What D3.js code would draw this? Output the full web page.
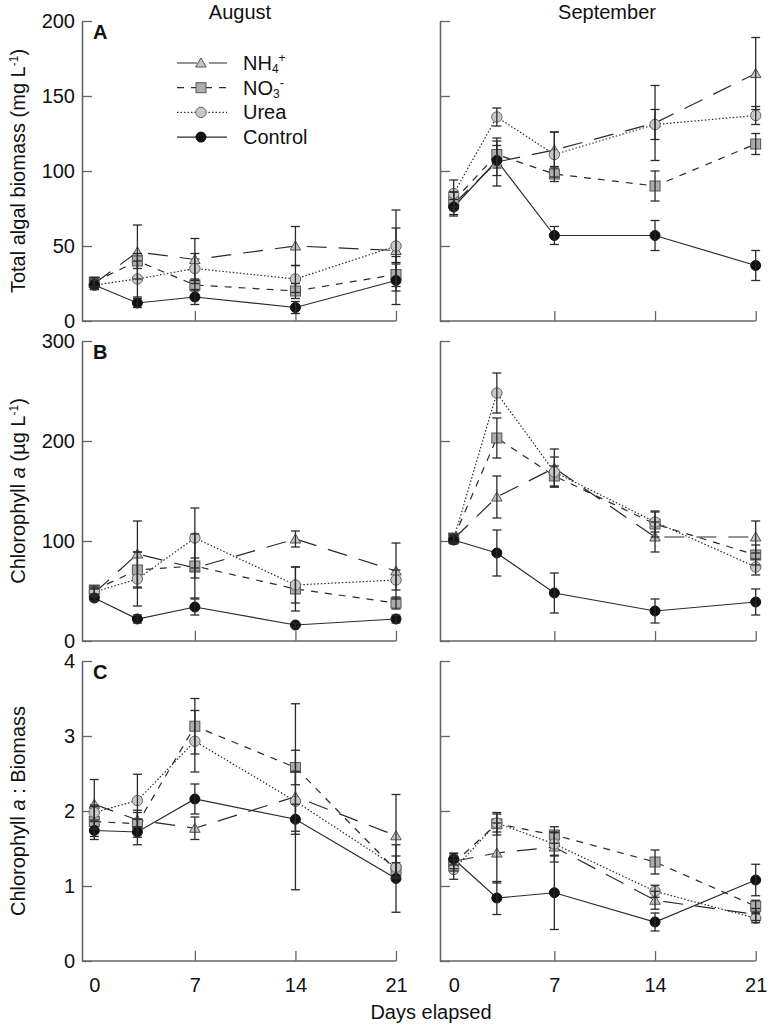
<!DOCTYPE html>
<html>
<head>
<meta charset="utf-8">
<script src="https://cdn.jsdelivr.net/npm/d3@7"></script>
<style>
  body { margin: 0; background: #fff; }
  svg { font-family: "Liberation Sans", Arial, sans-serif; }
</style>
</head>
<body>
<svg id="chart" width="771" height="1032"></svg>
<script>
/// data ///
const days = [0, 3, 7, 14, 21];
const seriesNames = ["NH4", "NO3", "Urea", "Control"];
const months = ["August", "September"];

// rows: NH4, NO3, Urea, Control
const biomassAugMean = [[25, 46, 41, 50, 47], [26, 40, 24, 20, 31], [24, 28, 35, 28, 50], [24, 12, 16, 9, 27]];
const biomassAugErr  = [[3, 18, 14, 13, 27], [3, 5, 4, 5, 8], [3, 12, 10, 9, 12], [3, 3, 5, 4, 16]];
const biomassSepMean = [[78, 106, 114, 132, 165], [80, 111, 98, 90, 118], [85, 136, 111, 131, 137], [76, 107, 57, 57, 37]];
const biomassSepErr  = [[8, 16, 12, 25, 24], [6, 9, 5, 10, 7], [9, 6, 15, 10, 6], [5, 10, 6, 10, 10]];

const chlAugMean = [[48, 87, 73, 102, 70], [51, 71, 75, 52, 38], [49, 62, 103, 56, 61], [43, 22, 34, 16, 22]];
const chlAugErr  = [[4, 33, 10, 8, 28], [4, 18, 32, 22, 6], [4, 27, 30, 18, 10], [3, 4, 8, 2, 4]];
const chlSepMean = [[102, 144, 173, 104, 104], [103, 203, 165, 117, 86], [102, 248, 169, 119, 74], [101, 88, 48, 30, 39]];
const chlSepErr  = [[4, 21, 19, 15, 16], [4, 20, 10, 13, 10], [4, 20, 15, 10, 8], [4, 23, 20, 12, 13]];

const ratioAugMean = [[2.09, 1.88, 1.77, 2.19, 1.67], [1.86, 1.83, 3.13, 2.58, 1.21], [1.98, 2.14, 2.93, 2.13, 1.25], [1.74, 1.72, 2.16, 1.89, 1.10]];
const ratioAugErr  = [[0.33, 0.1, 0.15, 1.24, 0.55], [0.2, 0.18, 0.37, 0.23, 0.1], [0.1, 0.35, 0.41, 0.4, 0.15], [0.12, 0.17, 0.2, 0.2, 0.45]];
const ratioSepMean = [[1.33, 1.44, 1.52, 0.81, 0.62], [1.30, 1.83, 1.68, 1.32, 0.73], [1.22, 1.84, 1.56, 0.93, 0.57], [1.36, 0.84, 0.91, 0.52, 1.08]];
const ratioSepErr  = [[0.1, 0.4, 0.2, 0.12, 0.08], [0.1, 0.15, 0.11, 0.16, 0.08], [0.13, 0.12, 0.15, 0.08, 0.06], [0.08, 0.22, 0.49, 0.12, 0.21]];

const xTicks = [0, 7, 14, 21];
const biomassTicks = [0, 50, 100, 150, 200];
const chlTicks = [0, 100, 200, 300];
const ratioTicks = [0, 1, 2, 3, 4];

const panels = [
  { letter: "A", ticks: biomassTicks, max: 200, data: [[biomassAugMean, biomassAugErr], [biomassSepMean, biomassSepErr]] },
  { letter: "B", ticks: chlTicks, max: 300, data: [[chlAugMean, chlAugErr], [chlSepMean, chlSepErr]] },
  { letter: "C", ticks: ratioTicks, max: 4, data: [[ratioAugMean, ratioAugErr], [ratioSepMean, ratioSepErr]] }
];

/// styles ///
const lineDash = { NH4: "20,12", NO3: "7,7", Urea: "1.5,2", Control: null };
const markFill = { NH4: "#c4c4c4", NO3: "#acacac", Urea: "#c8c8c8", Control: "#111" };
const ink = "#2a2a2a";
const axisColor = "#666";
const fontFam = "'Liberation Sans', Arial, sans-serif";

/// layout ///
const colAxisX = [82, 440];
const colRange = [[94.3, 396], [453.7, 755.7]];
const monthX = [240, 607];
const rowTop = [21, 341, 661];
const rowH = 300;

const svg = d3.select("#chart");

// y axis titles
const yTitles = [
  { y: 171, parts: [["Total algal biomass (mg L", null], ["-1", "super"], [")", null]] },
  { y: 491, parts: [["Chlorophyll ", null], ["a", "italic"], [" (µg L", null], ["-1", "super"], [")", null]] },
  { y: 811, parts: [["Chlorophyll ", null], ["a", "italic"], [" : Biomass", null]] }
];

panels.forEach((p, r) => {
  const top = rowTop[r];
  const y = d3.scaleLinear().domain([0, p.max]).range([top + rowH, top]);

  months.forEach((m, c) => {
    const x = d3.scaleLinear().domain([0, 21]).range(colRange[c]);
    const g = svg.append("g");

    // y axis
    g.append("g")
      .attr("transform", `translate(${colAxisX[c]},0)`)
      .call(d3.axisLeft(y).tickValues(p.ticks).tickSize(-10).tickSizeOuter(0).tickPadding(7)
        .tickFormat(c === 0 ? d3.format("d") : ""))
      .call(a => a.select(".domain").attr("stroke", axisColor).attr("stroke-width", 1.6))
      .call(a => a.selectAll(".tick line").attr("stroke", axisColor).attr("stroke-width", 1.3))
      .call(a => a.selectAll(".tick text").attr("font-size", 20).attr("fill", "#111")
        .attr("font-family", fontFam));

    // x axis
    const xa = g.append("g")
      .attr("transform", `translate(0,${top + rowH})`)
      .call(d3.axisBottom(x).tickValues(xTicks).tickSize(-10).tickPadding(17)
        .tickFormat(r === 2 ? d3.format("d") : ""))
      .call(a => a.select(".domain").remove())
      .call(a => a.selectAll(".tick line").attr("stroke", axisColor).attr("stroke-width", 1.3)
        .filter(d => d === 0).remove())
      .call(a => a.selectAll(".tick text").attr("font-size", 20).attr("fill", "#111")
        .attr("font-family", fontFam));
    xa.append("line")
      .attr("x1", colAxisX[c]).attr("x2", x(21))
      .attr("stroke", axisColor).attr("stroke-width", 1.6);

    const [means, errs] = p.data[c];

    // lines
    const line = d3.line().x((d, i) => x(days[i])).y(d => y(d));
    seriesNames.forEach((s, k) => {
      g.append("path")
        .attr("d", line(means[k]))
        .attr("fill", "none")
        .attr("stroke", ink)
        .attr("stroke-width", 1.2)
        .attr("stroke-dasharray", lineDash[s]);
    });

    // markers
    seriesNames.forEach((s, k) => drawMarkers(g, s, means[k], x, y));

    // error bars
    seriesNames.forEach((s, k) => {
      const eb = g.append("g").attr("stroke", ink).attr("stroke-width", 1.3);
      means[k].forEach((v, i) => {
        const cx = x(days[i]), lo = y(Math.max(0, v - errs[k][i])), hi = y(v + errs[k][i]);
        eb.append("line").attr("x1", cx).attr("x2", cx).attr("y1", lo).attr("y2", hi);
        eb.append("line").attr("x1", cx - 4.5).attr("x2", cx + 4.5).attr("y1", lo).attr("y2", lo);
        eb.append("line").attr("x1", cx - 4.5).attr("x2", cx + 4.5).attr("y1", hi).attr("y2", hi);
      });
    });

    // month titles
    if (r === 0) {
      svg.append("text")
        .attr("x", monthX[c]).attr("y", 19)
        .attr("text-anchor", "middle").attr("font-size", 20).attr("fill", "#111")
        .text(m);
    }
  });

  // panel letter
  svg.append("text")
    .attr("x", 93).attr("y", top + 18)
    .attr("font-size", 20).attr("font-weight", "bold").attr("fill", "#111")
    .text(p.letter);

  // y title
  const t = svg.append("text")
    .attr("transform", `translate(25,${yTitles[r].y}) rotate(-90)`)
    .attr("text-anchor", "middle").attr("font-size", 20).attr("fill", "#111");
  yTitles[r].parts.forEach(([txt, kind]) => {
    const ts = t.append("tspan").text(txt);
    if (kind === "super") ts.attr("font-size", 12).attr("baseline-shift", "super");
    if (kind === "italic") ts.attr("font-style", "italic");
  });
});

function drawMarkers(g, s, vals, x, y) {
  vals.forEach((v, i) => drawMarker(g, s, x(days[i]), y(v)));
}

function drawMarker(g, s, cx, cy) {
  if (s === "NH4") {
    g.append("path")
      .attr("d", d3.symbol(d3.symbolTriangle, 48)())
      .attr("transform", `translate(${cx},${cy + 1})`)
      .attr("fill", markFill[s]).attr("stroke", "#555").attr("stroke-width", 1);
  } else if (s === "NO3") {
    g.append("rect")
      .attr("x", cx - 5).attr("y", cy - 5).attr("width", 10).attr("height", 10)
      .attr("fill", markFill[s]).attr("stroke", "#555").attr("stroke-width", 1);
  } else if (s === "Urea") {
    g.append("circle").attr("cx", cx).attr("cy", cy).attr("r", 5.2)
      .attr("fill", markFill[s]).attr("stroke", "#666").attr("stroke-width", 1);
  } else {
    g.append("circle").attr("cx", cx).attr("cy", cy).attr("r", 5)
      .attr("fill", markFill[s]).attr("stroke", "#111").attr("stroke-width", 1);
  }
}

/// legend ///
const legendLabels = [
  [["NH", null], ["4", "sub"], ["+", "super"]],
  [["NO", null], ["3", "sub"], ["-", "super"]],
  [["Urea", null]],
  [["Control", null]]
];
const legend = svg.append("g");
seriesNames.forEach((s, k) => {
  const ly = 63 + k * 24.7;
  legend.append("line")
    .attr("x1", 177).attr("x2", 227).attr("y1", ly).attr("y2", ly)
    .attr("stroke", ink).attr("stroke-width", 1.2)
    .attr("stroke-dasharray", lineDash[s]);
  drawMarker(legend, s, 201, ly);
  const t = legend.append("text")
    .attr("x", 243).attr("y", ly + 7)
    .attr("font-size", 20).attr("fill", "#111");
  legendLabels[k].forEach(([txt, kind]) => {
    const ts = t.append("tspan").text(txt);
    if (kind === "sub") ts.attr("font-size", 12).attr("dy", 3);
    if (kind === "super") ts.attr("font-size", 12).attr("dy", -11);
  });
});

// x title
svg.append("text")
  .attr("x", 431).attr("y", 1019)
  .attr("text-anchor", "middle").attr("font-size", 20).attr("fill", "#111")
  .text("Days elapsed");
</script>
</body>
</html>
